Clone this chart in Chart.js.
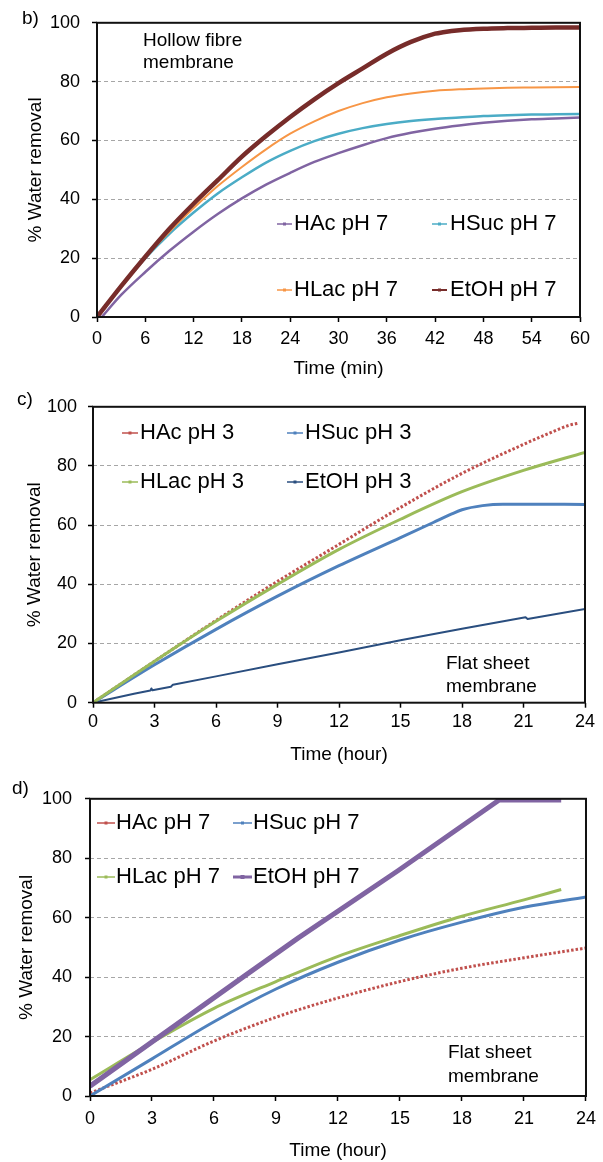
<!DOCTYPE html>
<html><head><meta charset="utf-8">
<script src="https://cdn.jsdelivr.net/npm/chart.js@4.4.1/dist/chart.umd.min.js"></script>
<style>
html,body{margin:0;padding:0;background:#fff;}
body{width:603px;height:1162px;position:relative;overflow:hidden;font-family:"Liberation Sans",Arial,sans-serif;color:#000;}
canvas{position:absolute;left:0;}
.note{position:absolute;font-size:19px;white-space:pre;}
</style></head><body>
<canvas id="cb" width="603" height="385" style="top:0"></canvas>
<canvas id="cc" width="603" height="390" style="top:385px"></canvas>
<canvas id="cd" width="603" height="387" style="top:775px"></canvas>
<div class="note" style="left:22px;top:7px;">b)</div>
<div class="note" style="left:17px;top:388px;">c)</div>
<div class="note" style="left:12px;top:777px;">d)</div>
<div class="note" style="left:143px;top:29px;line-height:22px;">Hollow fibre
membrane</div>
<div class="note" style="left:446px;top:651px;line-height:23px;">Flat sheet
membrane</div>
<div class="note" style="left:448px;top:1040px;line-height:24px;">Flat sheet
membrane</div>
<script>
// ---------- tick labels ----------
const yTickValues = [0, 20, 40, 60, 80, 100];
const minuteTicks = [0, 6, 12, 18, 24, 30, 36, 42, 48, 54, 60];
const hourTicks = [0, 3, 6, 9, 12, 15, 18, 21, 24];

// ---------- panel b (hollow fibre, pH 7, minutes) ----------
const bTime = [0, 3, 6, 9, 12, 15, 18, 21, 24, 27, 30, 33, 36, 39, 42, 45, 48, 51, 54, 57, 60];
const bHAcTime = [0.6, 3, 6, 9, 12, 15, 18, 21, 24, 27, 30, 33, 36, 39, 42, 45, 48, 51, 54, 57, 60];
const bHAc = [0, 7.5, 15.3, 22.5, 29, 35, 40.3, 45, 49, 52.7, 55.7, 58.4, 60.8, 62.6, 64, 65.1, 66, 66.7, 67.2, 67.5, 67.8];
const bHSuc = [0, 10.5, 20, 28.3, 35.5, 42, 47.5, 52.5, 56.5, 59.8, 62.3, 64.2, 65.6, 66.6, 67.3, 67.8, 68.3, 68.6, 68.8, 68.9, 69];
const bHLac = [0, 10.5, 20.3, 29, 37, 44.5, 51, 57, 62.3, 66.5, 70, 72.7, 74.7, 76, 76.9, 77.4, 77.7, 77.9, 78, 78.1, 78.2];
const bEtOHTime = [0, 3, 6, 9, 12, 15, 18, 21, 24, 27, 30, 33, 36, 39, 42, 43, 45, 48, 51, 54, 57, 60];
const bEtOH = [0, 10.5, 20.5, 30, 38.5, 46.5, 54.5, 61.5, 68, 74, 79.5, 84.5, 89.5, 93.5, 96.3, 96.8, 97.5, 98, 98.2, 98.3, 98.4, 98.4];

// ---------- panel c (flat sheet, pH 3, hours) ----------
const cHAcTime = [0, 3, 6, 9, 12, 15, 18, 21, 22.5, 23.2, 23.7];
const cHAc = [0, 14, 27.8, 41, 53.5, 66, 77.5, 87.3, 91.8, 93.7, 94.5];
const cHSucTime = [0, 3, 6, 9, 12, 15, 16.6, 17.5, 18, 19, 20, 21, 24];
const cHSuc = [0, 12.8, 24.8, 36, 46.3, 55.8, 60.9, 63.8, 65.2, 66.6, 67.1, 67.1, 67];
const cHLacTime = [0, 3, 6, 9, 12, 15, 18, 21, 24];
const cHLac = [0, 14, 27.5, 40, 51.8, 62, 71.3, 78.5, 84.6];
const cEtOHTime = [0, 1, 2, 2.8, 2.85, 2.9, 3.8, 3.9, 6, 9, 12, 15, 18, 21.1, 21.2, 24];
const cEtOH = [0, 1.5, 3, 4.1, 4.8, 4.2, 5.4, 6.1, 8.9, 13, 17, 21.1, 25, 28.9, 28.3, 31.7];

// ---------- panel d (flat sheet, pH 7, hours) ----------
const dHAcTime = [0, 3, 6, 9, 12, 15, 18, 21, 24];
const dHAc = [1, 9, 18.5, 26.5, 33, 38.5, 43, 46.5, 49.8];
const dHSucTime = [0, 3, 6, 9, 12, 15, 18, 21, 24];
const dHSuc = [0, 12.5, 25, 36, 45, 52.5, 58.5, 63.5, 67];
const dHLacTime = [0, 3, 6, 9, 12, 15, 18, 21, 22.8];
const dHLac = [5.5, 18, 29.5, 38.5, 47, 54, 60.5, 66, 69.5];
const dEtOHTime = [0, 7.5, 10.1, 14.9, 19.8, 22.8];
const dEtOH = [3.3, 40.5, 53.3, 75.8, 99.6, 99.6];

// ---------- helpers ----------
const FONT = '"Liberation Sans", Arial, sans-serif';
const pts = (xs, ys) => xs.map((x, i) => ({x: x, y: ys[i]}));

const framePlugin = {
  id: 'frame',
  afterDatasetsDraw(chart) {
    const {ctx, chartArea: a} = chart;
    ctx.save();
    ctx.strokeStyle = '#111';
    ctx.lineWidth = 2;
    ctx.setLineDash([]);
    ctx.strokeRect(a.left, a.top, a.right - a.left, a.bottom - a.top);
    ctx.restore();
  }
};

const posLegend = {
  id: 'posLegend',
  afterDraw(chart, args, opts) {
    const ctx = chart.ctx;
    ctx.save();
    ctx.font = opts.size + 'px ' + FONT;
    ctx.textBaseline = 'middle';
    ctx.textAlign = 'left';
    (opts.items || []).forEach(it => {
      const ds = chart.data.datasets[it.index];
      ctx.setLineDash([]);
      ctx.strokeStyle = ds.borderColor;
      ctx.lineWidth = it.lw || 1.5;
      ctx.beginPath();
      ctx.moveTo(it.x1, it.y);
      ctx.lineTo(it.x2, it.y);
      ctx.stroke();
      const m = it.m || 3;
      ctx.fillStyle = ds.borderColor;
      ctx.fillRect((it.x1 + it.x2) / 2 - m / 2, it.y - m / 2, m, m);
      ctx.fillStyle = '#000';
      ctx.fillText(ds.label, it.tx, it.y);
    });
    ctx.restore();
  }
};

function ds(label, xs, ys, color, width, order, dash, straight) {
  const d = {
    label: label, data: pts(xs, ys), borderColor: color, backgroundColor: color,
    borderWidth: width, borderDash: dash || [], pointRadius: 0, fill: false,
    order: order, borderJoinStyle: 'round'
  };
  if (straight) { d.tension = 0; } else { d.cubicInterpolationMode = 'monotone'; }
  return d;
}

function makeChart(id, c) {
  return new Chart(document.getElementById(id), {
    type: 'line',
    data: {datasets: c.datasets},
    options: {
      responsive: false,
      animation: false,
      events: [],
      layout: {padding: {top: c.top, right: 603 - c.right, bottom: 0, left: 0}},
      plugins: {
        legend: {display: false},
        tooltip: {enabled: false},
        posLegend: {size: 22, items: c.legend}
      },
      scales: {
        x: {
          type: 'linear', min: 0, max: c.xMax,
          afterBuildTicks: s => { s.ticks = c.xTicks.map(v => ({value: v})); },
          afterFit: s => { s.height = c.canvasH - c.bottom; },
          grid: {drawOnChartArea: false, drawTicks: true, tickLength: 5, tickColor: '#000', tickWidth: 1.5},
          border: {display: false},
          ticks: {font: {family: FONT, size: 18}, color: '#000', padding: c.xTickPad, maxRotation: 0, autoSkip: false},
          title: {display: true, text: c.xTitle, color: '#000', font: {family: FONT, size: 19}, padding: {top: 0, bottom: c.xTitlePad}}
        },
        y: {
          min: 0, max: 100,
          afterBuildTicks: s => { s.ticks = yTickValues.map(v => ({value: v})); },
          afterFit: s => { s.width = c.left; },
          grid: {
            color: ctx => (ctx.tick && (ctx.tick.value === 0 || ctx.tick.value === 100)) ? 'rgba(0,0,0,0)' : '#a6a6a6',
            lineWidth: 1, drawTicks: true, tickLength: 5, tickColor: '#000', tickWidth: 1.5
          },
          border: {display: false, dash: [4, 3]},
          ticks: {font: {family: FONT, size: 18}, color: '#000', padding: c.yTickPad},
          title: {display: true, text: '% Water removal', color: '#000', font: {family: FONT, size: 19}, padding: {top: c.yTitlePad, bottom: 0}}
        }
      }
    },
    plugins: [framePlugin, posLegend]
  });
}

// ---------- panel b ----------
makeChart('cb', {
  canvasH: 385, left: 97, right: 580, top: 22, bottom: 317,
  xMax: 60, xTicks: minuteTicks, xTitle: 'Time (min)',
  xTickPad: 6, xTitlePad: 4.6, yTickPad: 12, yTitlePad: 24.5,
  datasets: [
    ds('HAc pH 7', bHAcTime, bHAc, '#8064A2', 2.5, 3),
    ds('HSuc pH 7', bTime, bHSuc, '#4BACC6', 2.5, 2),
    ds('HLac pH 7', bTime, bHLac, '#F79646', 2, 1),
    ds('EtOH pH 7', bEtOHTime, bEtOH, '#772C2A', 4.5, 0)
  ],
  legend: [
    {index: 0, x1: 277, x2: 292, tx: 294, y: 224},
    {index: 1, x1: 432, x2: 447, tx: 450, y: 224},
    {index: 2, x1: 277, x2: 292, tx: 294, y: 290},
    {index: 3, x1: 432, x2: 447, tx: 450, y: 290, lw: 2}
  ]
});

// ---------- panel c ----------
makeChart('cc', {
  canvasH: 390, left: 93, right: 585, top: 17.7, bottom: 317.7,
  xMax: 24, xTicks: hourTicks, xTitle: 'Time (hour)',
  xTickPad: 4, xTitlePad: 8.6, yTickPad: 11, yTitlePad: 23,
  datasets: [
    ds('HAc pH 3', cHAcTime, cHAc, '#C0504D', 3, 2, [2.5, 2]),
    ds('HSuc pH 3', cHSucTime, cHSuc, '#4F81BD', 3, 1),
    ds('HLac pH 3', cHLacTime, cHLac, '#9BBB59', 3, 0),
    ds('EtOH pH 3', cEtOHTime, cEtOH, '#2A4E7F', 2, 3, null, true)
  ],
  legend: [
    {index: 0, x1: 122, x2: 138, tx: 140, y: 48},
    {index: 1, x1: 287, x2: 303, tx: 305, y: 48},
    {index: 2, x1: 122, x2: 138, tx: 140, y: 97},
    {index: 3, x1: 287, x2: 303, tx: 305, y: 97}
  ]
});

// ---------- panel d ----------
makeChart('cd', {
  canvasH: 387, left: 90, right: 590, top: 16, bottom: 321,
  xMax: 24, xTicks: hourTicks, xTitle: 'Time (hour)',
  xTickPad: 7, xTitlePad: 0, yTickPad: 13, yTitlePad: 15.6,
  datasets: [
    ds('HAc pH 7', dHAcTime, dHAc, '#C0504D', 3, 3, [2.5, 2]),
    ds('HSuc pH 7', dHSucTime, dHSuc, '#4F81BD', 3, 2),
    ds('HLac pH 7', dHLacTime, dHLac, '#9BBB59', 3, 1),
    ds('EtOH pH 7', dEtOHTime, dEtOH, '#8064A2', 5, 0, null, true)
  ],
  legend: [
    {index: 0, x1: 97, x2: 115, tx: 116, y: 48},
    {index: 1, x1: 233, x2: 252, tx: 253, y: 48},
    {index: 2, x1: 97, x2: 115, tx: 116, y: 102},
    {index: 3, x1: 233, x2: 252, tx: 253, y: 102, lw: 3, m: 4}
  ]
});
</script>
</body></html>
